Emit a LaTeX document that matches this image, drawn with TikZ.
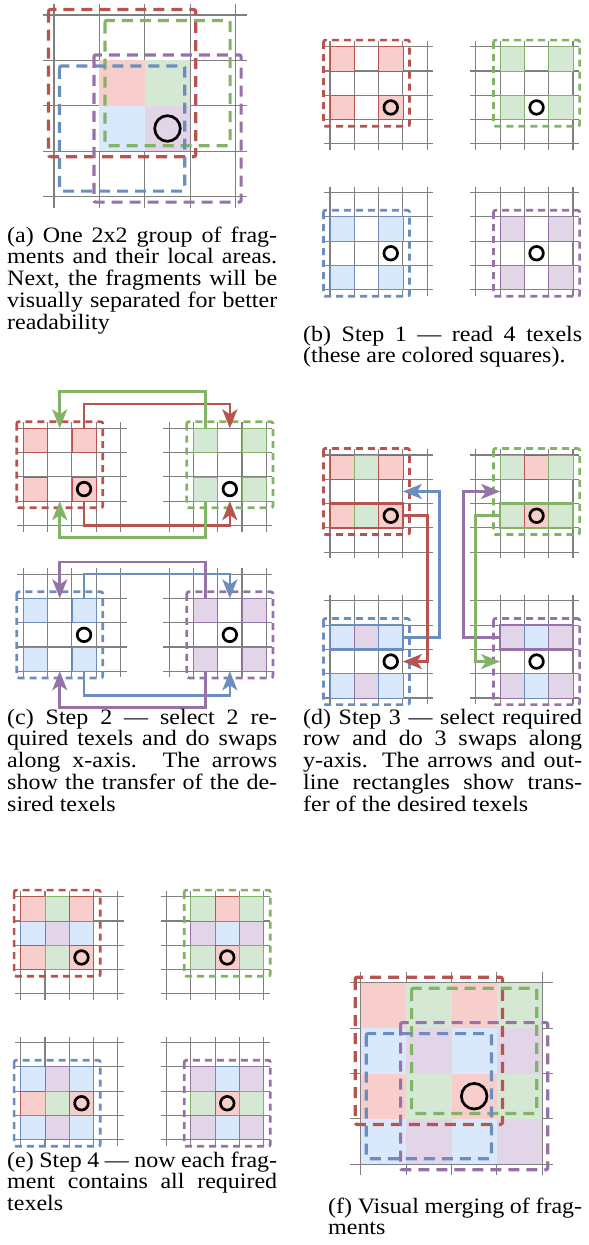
\documentclass[tikz,border=0pt]{standalone}
\usepackage{fontspec}
\setmainfont{Liberation Serif}[FakeStretch = 1.09]
\usetikzlibrary{positioning}
\usetikzlibrary{arrows.meta}

\definecolor{redfill}{HTML}{F8CECC}
\definecolor{redline}{HTML}{B85450}
\definecolor{greenfill}{HTML}{D5E8D4}
\definecolor{greenline}{HTML}{82B366}
\definecolor{bluefill}{HTML}{DAE8FC}
\definecolor{blueline}{HTML}{6C8EBF}
\definecolor{purplefill}{HTML}{E1D5E7}
\definecolor{purpleline}{HTML}{9673A6}

% 4x4 texels: name, left, top, texel size, overhang of the lines
\newcommand{\fragment}[5]{
	\foreach \k in {0, ..., 4} {
		\draw[gridline] ({#2 + \k * #4}, {#3 - #5}) -- ({#2 + \k * #4}, {#3 + 4 * #4 + #5});
		\draw[gridline] ({#2 - #5}, {#3 + \k * #4}) -- ({#2 + 4 * #4 + #5}, {#3 + \k * #4});
	}
	\foreach \i in {0, ..., 3} {
		\foreach \j in {0, ..., 3} {
			\node[texel, minimum size = #4pt] (#1-\i-\j) at ({#2 + (\i + 0.5) * #4}, {#3 + (\j + 0.5) * #4}) {};
		}
	}
}
\newcommand{\paint}[2]{\draw[line width = 0.8, draw = #2line, fill = #2fill] (#1.north west) rectangle (#1.south east);}
\newcommand{\wash}[2]{\fill[#2fill] (#1.north west) rectangle (#1.south east);}
% local area: colour, first texel, last texel, shift of the first and of the last corner
\newcommand{\area}[6][area]{\draw[#1, draw = #2line] ([shift = {(#5, #5)}]#3.north west) rectangle ([shift = {(#6, #6)}]#4.south east);}

\begin{document}
\begin{tikzpicture}[x = 1pt, y = -1pt,
	gridline/.style = {gray, line width = 1.1},
	texel/.style = {inner sep = 0, outer sep = 0},
	area/.style = {line width = 2.7, dash pattern = on 7pt off 5pt, rounded corners = 2},
	bigarea/.style = {line width = 3.2, dash pattern = on 11pt off 7pt, rounded corners = 2},
	band/.style = {line width = 2.7},
	ring/.style = {black, line width = 2.7},
	move/.style = {line width = 2.7, -{Stealth[length = 19pt, width = 15pt, inset = 5pt]}},
	caption/.style = {anchor = base west, inner sep = 0, align = justify, font = \fontsize{22}{21.8}\selectfont}]
	\useasboundingbox (0, 0) rectangle (589, 1245);

	% (a)
	\fragment{A}{54}{15}{45.4}{11}
	\foreach \i/\j/\tone in {1/1/red, 2/1/green, 1/2/blue, 2/2/purple} {\wash{A-\i-\j}{\tone}}
	\area[bigarea]{red}{A-0-0}{A-2-2}{-5.5}{5.5}
	\area[bigarea]{green}{A-1-0}{A-3-2}{5.5}{-5.5}
	\area[bigarea]{blue}{A-0-1}{A-2-3}{5.5}{-5.5}
	\area[bigarea]{purple}{A-1-1}{A-3-3}{-5.5}{5.5}
	\draw[ring] (A-2-2) circle [radius = 12.8];
	\node[caption, text width = 270pt] (capA) at (7, 242) {(a) One 2x2 group of frag-\linebreak ments and their local areas.\linebreak Next, the fragments will be\linebreak visually separated for better\linebreak readability};

	% (b)
	\fragment{bR}{330}{46.7}{24.3}{6}
	\fragment{bG}{475.8}{46.7}{24.3}{6}
	\fragment{bB}{330}{192.5}{24.3}{6}
	\fragment{bP}{475.8}{192.5}{24.3}{6}
	\foreach \i/\j in {0/0, 2/0, 0/2, 2/2} {\paint{bR-\i-\j}{red}}
	\foreach \i/\j in {1/0, 3/0, 1/2, 3/2} {\paint{bG-\i-\j}{green}}
	\foreach \i/\j in {0/1, 2/1, 0/3, 2/3} {\paint{bB-\i-\j}{blue}}
	\foreach \i/\j in {1/1, 3/1, 1/3, 3/3} {\paint{bP-\i-\j}{purple}}
	\area{red}{bR-0-0}{bR-2-2}{-6.6}{6.6}
	\area{green}{bG-1-0}{bG-3-2}{-6.6}{6.6}
	\area{blue}{bB-0-1}{bB-2-3}{-6.6}{6.6}
	\area{purple}{bP-1-1}{bP-3-3}{-6.6}{6.6}
	\foreach \f in {bR, bG, bB, bP} {\draw[ring] (\f-2-2) circle [radius = 6.8];}
	\node[caption, text width = 279pt] (capB) at (303, 341) {(b) Step 1 — read 4 texels\linebreak (these are colored squares).};

	% (c)
	\fragment{cR}{23.3}{428.3}{24.3}{6}
	\fragment{cG}{169.1}{428.3}{24.3}{6}
	\fragment{cB}{23.3}{574.1}{24.3}{6}
	\fragment{cP}{169.1}{574.1}{24.3}{6}
	\foreach \i/\j in {0/0, 2/0, 0/2, 2/2} {\paint{cR-\i-\j}{red}}
	\foreach \i/\j in {1/0, 3/0, 1/2, 3/2} {\paint{cG-\i-\j}{green}}
	\foreach \i/\j in {0/1, 2/1, 0/3, 2/3} {\paint{cB-\i-\j}{blue}}
	\foreach \i/\j in {1/1, 3/1, 1/3, 3/3} {\paint{cP-\i-\j}{purple}}
	\area{red}{cR-0-0}{cR-2-2}{-6.6}{6.6}
	\area{green}{cG-1-0}{cG-3-2}{-6.6}{6.6}
	\area{blue}{cB-0-1}{cB-2-3}{-6.6}{6.6}
	\area{purple}{cP-1-1}{cP-3-3}{-6.6}{6.6}
	\foreach \f in {cR, cG, cB, cP} {\draw[ring] (\f-2-2) circle [radius = 6.8];}
	\draw[move, redline] (cR-2-0.north) -- ++(0, -24.3) -| (cG-2-0.north);
	\draw[move, redline] (cR-2-2.south) -- ++(0, 24.3) -| (cG-2-2.south);
	\draw[move, greenline] (cG-1-0.north) -- ++(0, -36.5) -| (cR-1-0.north);
	\draw[move, greenline] (cG-1-2.south) -- ++(0, 36.5) -| (cR-1-2.south);
	\draw[move, blueline] (cB-2-1.north) -- ++(0, -24.3) -| (cP-2-1.north);
	\draw[move, blueline] (cB-2-3.south) -- ++(0, 24.3) -| (cP-2-3.south);
	\draw[move, purpleline] (cP-1-1.north) -- ++(0, -36.5) -| (cB-1-1.north);
	\draw[move, purpleline] (cP-1-3.south) -- ++(0, 36.5) -| (cB-1-3.south);
	\node[caption, text width = 270pt] (capC) at (7, 724) {(c) Step 2 — select 2 re-\linebreak quired texels and do swaps\linebreak along x-axis. The arrows\linebreak show the transfer of the de-\linebreak sired texels};

	% (d)
	\fragment{dR}{330}{455}{24.3}{6}
	\fragment{dG}{475.8}{455}{24.3}{6}
	\fragment{dB}{330}{600.8}{24.3}{6}
	\fragment{dP}{475.8}{600.8}{24.3}{6}
	\foreach \i/\j/\tone in {0/0/red, 1/0/green, 2/0/red, 0/2/red, 1/2/green, 2/2/red} {\paint{dR-\i-\j}{\tone}}
	\foreach \i/\j/\tone in {1/0/green, 2/0/red, 3/0/green, 1/2/green, 2/2/red, 3/2/green} {\paint{dG-\i-\j}{\tone}}
	\foreach \i/\j/\tone in {0/1/blue, 1/1/purple, 2/1/blue, 0/3/blue, 1/3/purple, 2/3/blue} {\paint{dB-\i-\j}{\tone}}
	\foreach \i/\j/\tone in {1/1/purple, 2/1/blue, 3/1/purple, 1/3/purple, 2/3/blue, 3/3/purple} {\paint{dP-\i-\j}{\tone}}
	\area{red}{dR-0-0}{dR-2-2}{-6.6}{6.6}
	\area{green}{dG-1-0}{dG-3-2}{-6.6}{6.6}
	\area{blue}{dB-0-1}{dB-2-3}{-6.6}{6.6}
	\area{purple}{dP-1-1}{dP-3-3}{-6.6}{6.6}
	\draw[band, redline] (dR-0-2.north west) rectangle (dR-2-2.south east);
	\draw[band, greenline] (dG-1-2.north west) rectangle (dG-3-2.south east);
	\draw[band, blueline] (dB-0-1.north west) rectangle (dB-2-1.south east);
	\draw[band, purpleline] (dP-1-1.north west) rectangle (dP-3-1.south east);
	\foreach \f in {dR, dG, dB, dP} {\draw[ring] (\f-2-2) circle [radius = 6.8];}
	\draw[move, blueline] (dB-2-1.east) -- ++(36.5, 0) |- (dR-2-1.east);
	\draw[move, redline] (dR-2-2.east) -- ++(24.3, 0) |- (dB-2-2.east);
	\draw[move, purpleline] (dP-1-1.west) -- ++(-36.5, 0) |- (dG-1-1.west);
	\draw[move, greenline] (dG-1-2.west) -- ++(-24.3, 0) |- (dP-1-2.west);
	\node[caption, text width = 279pt] (capD) at (303, 724) {(d) Step 3 — select required\linebreak row and do 3 swaps along\linebreak y-axis. The arrows and out-\linebreak line rectangles show trans-\linebreak fer of the desired texels};

	% (e)
	\fragment{eR}{20.7}{896.7}{24.3}{6}
	\fragment{eG}{166.5}{896.7}{24.3}{6}
	\fragment{eB}{20.7}{1042.5}{24.3}{6}
	\fragment{eP}{166.5}{1042.5}{24.3}{6}
	\foreach \i/\j/\tone in {0/0/red, 1/0/green, 2/0/red, 0/1/blue, 1/1/purple, 2/1/blue, 0/2/red, 1/2/green, 2/2/red} {\paint{eR-\i-\j}{\tone}}
	\foreach \i/\j/\tone in {1/0/green, 2/0/red, 3/0/green, 1/1/purple, 2/1/blue, 3/1/purple, 1/2/green, 2/2/red, 3/2/green} {\paint{eG-\i-\j}{\tone}}
	\foreach \i/\j/\tone in {0/1/blue, 1/1/purple, 2/1/blue, 0/2/red, 1/2/green, 2/2/red, 0/3/blue, 1/3/purple, 2/3/blue} {\paint{eB-\i-\j}{\tone}}
	\foreach \i/\j/\tone in {1/1/purple, 2/1/blue, 3/1/purple, 1/2/green, 2/2/red, 3/2/green, 1/3/purple, 2/3/blue, 3/3/purple} {\paint{eP-\i-\j}{\tone}}
	\area{red}{eR-0-0}{eR-2-2}{-6.6}{6.6}
	\area{green}{eG-1-0}{eG-3-2}{-6.6}{6.6}
	\area{blue}{eB-0-1}{eB-2-3}{-6.6}{6.6}
	\area{purple}{eP-1-1}{eP-3-3}{-6.6}{6.6}
	\foreach \f in {eR, eG, eB, eP} {\draw[ring] (\f-2-2) circle [radius = 6.8];}
	\node[caption, text width = 270pt] (capE) at (7, 1167) {(e) Step 4 — now each frag-\linebreak ment contains all required\linebreak texels};

	% (f)
	\fragment{F}{360.7}{982.7}{45.4}{11}
	\foreach \j/\ta/\tb in {0/red/green, 1/blue/purple, 2/red/green, 3/blue/purple} {
		\foreach \i/\tone in {0/\ta, 1/\tb, 2/\ta, 3/\tb} {\wash{F-\i-\j}{\tone}}
	}
	\area[bigarea]{red}{F-0-0}{F-2-2}{-5.5}{5.5}
	\area[bigarea]{green}{F-1-0}{F-3-2}{5.5}{-5.5}
	\area[bigarea]{blue}{F-0-1}{F-2-3}{5.5}{-5.5}
	\area[bigarea]{purple}{F-1-1}{F-3-3}{-5.5}{5.5}
	\draw[ring] (F-2-2) circle [radius = 12.8];
	\node[caption, text width = 254pt] (capF) at (328, 1213) {(f) Visual merging of frag-\linebreak ments};
\end{tikzpicture}
\end{document}
